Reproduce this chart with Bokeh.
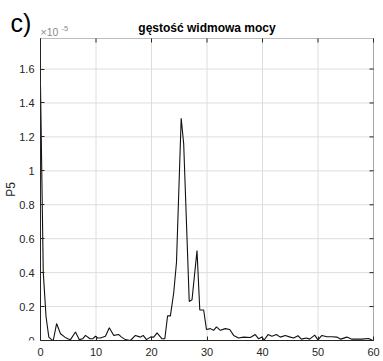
from bokeh.plotting import figure
from bokeh.models import Range1d, FixedTicker, Label, BoxAnnotation
from bokeh.embed import file_html
from bokeh.resources import INLINE

# frequency [Hz] and power spectral density (x1e-5)
freq = [0, 0.5, 1.0, 1.5, 2.0, 2.3, 2.9, 3.6, 4.4, 4.9, 5.4, 6.3, 7.0, 7.6, 8.1, 8.9,
        9.4, 9.9, 10.3, 10.8, 11.7, 12.4, 13.2, 14.1, 14.6, 15.3, 16.2, 17.1, 18.0,
        18.5, 19.1, 19.8, 20.4, 21.0, 21.9, 22.4, 22.9, 23.4, 24.0, 24.5, 25.35,
        25.8, 26.8, 27.3, 28.2, 28.7, 29.4, 29.9, 30.6, 31.2, 31.7, 32.4, 33.3,
        34.1, 34.8, 35.7, 36.6, 37.8, 38.7, 39.3, 39.9, 40.3, 41.0, 41.7, 42.5,
        43.2, 44.1, 45.0, 45.6, 46.4, 47.0, 47.9, 48.5, 49.4, 50.0, 50.7, 51.6,
        52.5, 53.4, 54.1, 55.2, 56.1, 56.7, 57.9, 59.1, 59.8, 60.0]
psd = [1.5, 0.40, 0.14, 0.02, 0.005, 0.0, 0.10, 0.04, 0.02, 0.01, 0.005, 0.05, 0.005,
       0.01, 0.03, 0.01, 0.01, 0.025, 0.015, 0.015, 0.025, 0.075, 0.03, 0.035, 0.02,
       0.005, 0.0, 0.03, 0.02, 0.03, 0.005, 0.02, 0.02, 0.045, 0.01, 0.01, 0.146,
       0.145, 0.28, 0.46, 1.31, 1.16, 0.23, 0.24, 0.53, 0.18, 0.18, 0.065, 0.07, 0.06,
       0.08, 0.06, 0.07, 0.065, 0.03, 0.015, 0.02, 0.018, 0.035, 0.01, 0.02, 0.003,
       0.035, 0.025, 0.035, 0.02, 0.03, 0.02, 0.015, 0.028, 0.008, 0.015, 0.008,
       0.032, 0.004, 0.03, 0.022, 0.022, 0.02, 0.008, 0.02, 0.008, 0.008, 0.008,
       0.012, 0.002, 0.0]

x_ticks = [0, 10, 20, 30, 40, 50, 60]
y_ticks = [0, 0.2, 0.4, 0.6, 0.8, 1.0, 1.2, 1.4, 1.6]
X_MAX = 60
Y_MAX = 1.78

panel_label = "c)"
title_text = "gęstość widmowa mocy"
exp_base = "×10"
exp_power = "-5"
y_label = "P5"

FONT = "Liberation Sans"
AX = "#262626"
GRID = "#dedede"

# canvas geometry (px): axes box spans x 40..373, y 38..340 on a 383x361 canvas
W, H = 383, 361
BOX_L, BOX_R, BOX_T, BOX_B = 40, 373, 38, 340
sx = (BOX_R - BOX_L) / X_MAX          # px per x unit
sy = (BOX_B - BOX_T) / Y_MAX          # px per y unit
x_range = Range1d(-BOX_L / sx, X_MAX + (W - BOX_R) / sx)
y_range = Range1d(0, Y_MAX + BOX_T / sy)

p = figure(width=W, height=H, output_backend="svg", toolbar_location=None,
           x_range=x_range, y_range=y_range,
           min_border=0, min_border_left=0, min_border_right=0, min_border_top=0,
           min_border_bottom=H - BOX_B)
p.background_fill_color = "white"
p.border_fill_color = "white"
p.outline_line_color = None
p.grid.visible = False

# grid lines inside the axes box
p.segment(x0=x_ticks, y0=[0] * len(x_ticks), x1=x_ticks, y1=[Y_MAX] * len(x_ticks),
          line_color=GRID, line_width=1)
p.segment(x0=[0] * len(y_ticks), y0=y_ticks, x1=[X_MAX] * len(y_ticks), y1=y_ticks,
          line_color=GRID, line_width=1)

p.line(freq, psd, line_color="#111111", line_width=1.1)

# axes box and inward ticks on the right and top
p.add_layout(BoxAnnotation(left=0, right=X_MAX, bottom=0, top=Y_MAX, fill_alpha=0,
                           line_color=AX, line_width=1))
p.ray(x=[X_MAX] * len(y_ticks), y=y_ticks, length=4, length_units="screen",
      angle=180, angle_units="deg", line_color=AX, line_width=1)
p.ray(x=x_ticks, y=[Y_MAX] * len(x_ticks), length=4, length_units="screen",
      angle=-90, angle_units="deg", line_color=AX, line_width=1)

for ax in (p.xaxis[0], p.yaxis[0]):
    ax.major_tick_in = 4
    ax.major_tick_out = 0
    ax.minor_tick_in = 0
    ax.minor_tick_out = 0
    ax.axis_line_color = AX
    ax.major_tick_line_color = AX
    ax.major_label_text_color = AX
    ax.major_label_text_font = FONT
    ax.major_label_text_font_size = "11px"
p.xaxis.ticker = FixedTicker(ticks=x_ticks)
p.yaxis.ticker = FixedTicker(ticks=y_ticks)
p.xaxis.bounds = (0, X_MAX)
p.yaxis.bounds = (0, Y_MAX)
p.yaxis.fixed_location = 0
p.yaxis.major_label_overrides = {0: "0", 1: "1"}
p.xaxis.major_label_standoff = 7
p.yaxis.major_label_standoff = 6
p.yaxis.axis_label = y_label
p.yaxis.axis_label_text_font = FONT
p.yaxis.axis_label_text_font_size = "12px"
p.yaxis.axis_label_text_font_style = "normal"
p.yaxis.axis_label_text_color = AX
p.yaxis.axis_label_standoff = -2

# texts above the axes box (screen px, origin at the frame's bottom-left),
# vertically centred on the given canvas row
def top_text(x, row, text, size, **kw):
    p.add_layout(Label(x=x, y=BOX_B - row, x_units="screen", y_units="screen",
                       text=text, text_baseline="middle", text_font=FONT,
                       text_font_size=size, **kw))

top_text(10, 22, panel_label, "25px", text_color="black")
top_text((BOX_L + BOX_R) / 2, 27, title_text, "12px", text_align="center",
         text_font_style="bold", text_color="black")
top_text(BOX_L, 31.5, exp_base, "10.5px", text_color="#8a8a8a")
top_text(BOX_L + 21, 27.5, exp_power, "7.5px", text_color="#8a8a8a")

open("out.html", "w").write(file_html(p, INLINE))
